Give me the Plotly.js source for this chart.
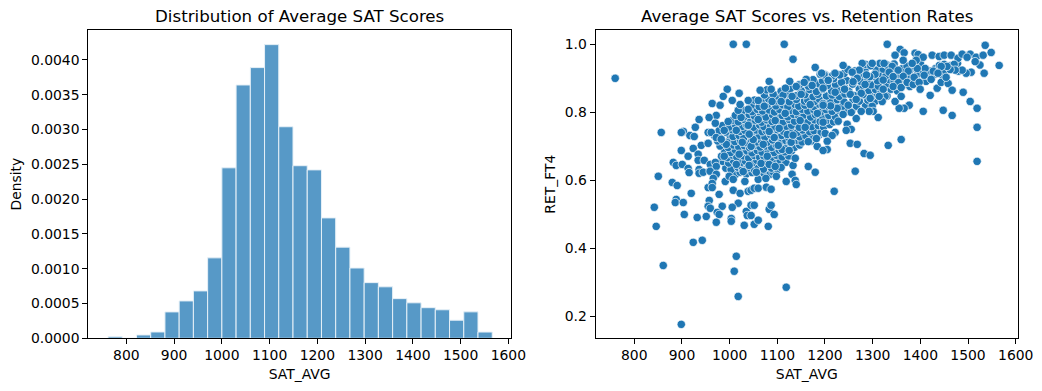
<!DOCTYPE html>
<html><head><meta charset="utf-8">
<script src="https://cdn.plot.ly/plotly-3.0.1.min.js"></script>
<style>html,body{margin:0;padding:0;background:#fff}#c{width:1042px;height:391px}</style>
</head><body><div id="c"></div>
<script>
const binCenters=[776.6,806.4,836.2,866,895.8,925.6,955.4,985.2,1015,1044.8,1074.6,1104.4,1134.2,1164,1193.8,1223.6,1253.4,1283.2,1313,1342.8,1372.6,1402.4,1432.2,1462,1491.8,1521.6,1551.4];
const densities=[0.000022,0,0.000048,0.000091,0.000379,0.000537,0.000681,0.001156,0.00245,0.00364,0.00389,0.00422,0.00304,0.00248,0.00242,0.00173,0.00131,0.00101,0.0008,0.00074,0.00057,0.00051,0.00044,0.00041,0.00026,0.00038,0.00009];
const yTicksLeft=[0,0.0005,0.001,0.0015,0.002,0.0025,0.003,0.0035,0.004];
const xTicks=[800,900,1000,1100,1200,1300,1400,1500,1600];
const yTicksRight=[0.2,0.4,0.6,0.8,1.0];
const titleLeft="Distribution of Average SAT Scores";
const titleRight="Average SAT Scores vs. Retention Rates";
// SAT_AVG, RET_FT4 pairs
const bodyPairs=[
[1005,.622],[1012,.617],[1022,.624],[1035,.619],[1047,.623],[1063,.616],[1072,.621],[1085,.618],[1091,.625],
[992,.636],[1003,.632],[1017,.639],[1027,.634],[1038,.637],[1052,.631],[1060,.638],[1071,.633],[1088,.636],[1101,.632],
[985,.656],[998,.651],[1008,.658],[1024,.653],[1033,.657],[1048,.652],[1057,.659],[1069,.654],[1078,.656],[1092,.651],[1106,.658],[1118,.653],
[983,.671],[995,.667],[1006,.674],[1015,.669],[1029,.672],[1040,.666],[1052,.673],[1063,.668],[1072,.671],[1087,.667],[1098,.674],[1110,.669],[1124,.672],
[990,.686],[1002,.682],[1012,.689],[1025,.684],[1036,.687],[1047,.681],[1058,.688],[1068,.683],[1081,.686],[1093,.682],[1104,.689],[1116,.684],[1130,.687],
[980,.701],[997,.697],[1008,.704],[1019,.699],[1031,.702],[1042,.696],[1054,.703],[1064,.698],[1076,.701],[1088,.697],[1098,.704],[1114,.699],[1120,.702],[1136,.697],[1147,.704],
[975,.716],[988,.712],[1001,.719],[1011,.714],[1023,.717],[1034,.711],[1046,.718],[1057,.713],[1067,.716],[1079,.712],[1090,.719],[1107,.714],[1118,.717],[1127,.711],[1141,.718],[1152,.713],[1172,.716],
[968,.731],[979,.727],[1000,.734],[1007,.729],[1020,.732],[1030,.726],[1043,.733],[1052,.728],[1062,.731],[1074,.727],[1086,.734],[1098,.729],[1109,.732],[1124,.726],[1138,.733],[1147,.728],[1160,.731],[1175,.727],[1188,.734],
[978,.746],[992,.742],[1005,.749],[1022,.744],[1032,.747],[1046,.741],[1056,.748],[1068,.743],[1077,.746],[1090,.742],[1100,.749],[1113,.744],[1128,.747],[1142,.741],[1153,.748],[1168,.743],[1177,.746],[1192,.742],
[985,.761],[1000,.757],[1012,.764],[1027,.759],[1036,.762],[1050,.756],[1063,.763],[1072,.758],[1086,.761],[1095,.757],[1108,.764],[1119,.759],[1130,.762],[1146,.756],[1160,.763],[1172,.758],[1186,.761],[1197,.757],[1210,.764],
[1005,.776],[1018,.772],[1031,.779],[1044,.774],[1054,.777],[1067,.771],[1078,.778],[1089,.773],[1103,.776],[1112,.772],[1125,.779],[1136,.774],[1152,.777],[1163,.771],[1178,.778],[1190,.773],[1203,.776],[1218,.772],
[1012,.791],[1030,.787],[1041,.794],[1052,.789],[1065,.792],[1076,.786],[1090,.793],[1101,.788],[1110,.791],[1122,.787],[1134,.794],[1145,.789],[1156,.792],[1170,.786],[1180,.793],[1195,.788],[1208,.791],[1222,.787],[1237,.794],
[1028,.806],[1047,.802],[1058,.809],[1069,.804],[1083,.807],[1094,.801],[1105,.808],[1119,.803],[1128,.806],[1140,.802],[1152,.809],[1164,.804],[1177,.807],[1191,.801],[1202,.808],[1215,.803],[1230,.806],[1245,.802],[1258,.809],
[1046,.821],[1062,.817],[1080,.824],[1097,.819],[1112,.822],[1122,.816],[1137,.823],[1145,.818],[1158,.821],[1177,.817],[1188,.824],[1205,.819],[1218,.822],[1235,.816],[1252,.823],[1266,.818],[1285,.821],
[1052,.836],[1070,.832],[1082,.839],[1098,.834],[1118,.837],[1125,.831],[1140,.838],[1157,.833],[1164,.836],[1178,.832],[1188,.839],[1212,.834],[1226,.837],[1240,.831],[1259,.838],[1272,.833],[1290,.836],[1305,.832],
[1073,.851],[1102,.847],[1121,.854],[1140,.849],[1158,.852],[1175,.846],[1185,.853],[1203,.848],[1215,.851],[1230,.847],[1242,.854],[1262,.849],[1280,.852],[1298,.846],[1310,.853],[1330,.848],
[1078,.866],[1108,.862],[1127,.869],[1150,.864],[1168,.867],[1182,.861],[1196,.868],[1214,.863],[1228,.866],[1250,.862],[1272,.869],[1292,.864],[1306,.867],[1318,.861],[1338,.868],[1352,.863],
[1146,.881],[1165,.877],[1187,.884],[1205,.879],[1222,.882],[1240,.876],[1258,.883],[1280,.878],[1297,.881],[1312,.877],[1330,.884],[1348,.879],[1368,.882],[1378,.876],
[1175,.896],[1195,.892],[1218,.899],[1245,.894],[1262,.897],[1275,.891],[1290,.898],[1310,.893],[1335,.896],[1345,.892],[1362,.899],[1380,.894],[1392,.897],[1412,.891],
[1200,.911],[1215,.907],[1240,.914],[1268,.909],[1282,.912],[1300,.906],[1318,.913],[1328,.908],[1352,.911],[1372,.907],[1395,.914],[1415,.909],[1430,.912],[1448,.906],
[1248,.926],[1263,.922],[1285,.929],[1308,.924],[1322,.927],[1338,.921],[1362,.928],[1378,.923],[1403,.926],[1418,.922],[1432,.929],[1450,.924],[1468,.927],[1480,.921],
[1285,.941],[1296,.937],[1315,.944],[1330,.939],[1345,.942],[1372,.936],[1400,.943],[1440,.938],[1450,.941],[1463,.937],[1478,.944],[1525,.939]
];
const edgePairs=[
[760,.90],[1007.6,1],[1035,1],[1114.5,1],[1133,.956],[1179.5,.932],[1083,.891],[1126,.891],[995,.868],[986.6,.847],[1020,.856],[1005.5,.835],[963.5,.826],[980,.821],[972,.791],[957,.785],[936,.779],[928,.756],[970,.768],[856.6,.741],[903,.744],[898.6,.741],[916.7,.732],[925.8,.729],[955,.741],[961.5,.741],[972,.726],[940.5,.703],[955,.709],[923.7,.694],[898.6,.688],[913,.671],[934,.677],[881.8,.653],[888,.644],[900.7,.647],[913,.635],[915,.623],[934,.659],[946.8,.659],[936,.632],[936,.621],[944.7,.624],[959.4,.647],[970,.653],[972,.641],[959,.627],[972,.618],[965.7,.606],[850.4,.612],[879.7,.594],[890,.585],[955,.579],[963.5,.591],[963.5,.579],[990.8,.597],[999.2,.612],[1007.6,.603],[1007.6,.571],[1022,.562],[978,.559],[919.5,.562],[888,.544],[886,.535],[902.8,.535],[957.3,.541],[955,.524],[959.4,.518],[984.5,.524],[1018,.533],[1005.5,.521],[842,.521],[846,.465],[904.9,.5],[932,.491],[951,.494],[974,.506],[978,.5],[972,.477],[1003.4,.488],[1003.4,.48],[1030.6,.468],[1035,.509],[1037,.497],[1045,.527],[1051.6,.527],[1045,.497],[1051.6,.471],[1060,.483],[1081,.465],[1083,.515],[1087,.527],[1093.5,.5],[923.7,.418],[942.6,.424],[1014,.377],[1009.7,.333],[860.8,.35],[1018,.259],[1118.7,.286],[898.6,.177],[1039,.568],[1045,.571],[1051.6,.577],[1060,.577],[1077,.58],[1087,.574],[1118.7,.597],[1131,.618],[1137.6,.6],[1139.7,.588],[1165,.641],[1179.5,.624],[1133,.644],[1137.6,.665],[1098,.612],[1108,.638],
[1032,.597],[1060,.603],[1076,.606],[1028.5,.626],[1056,.624],[1014,.647],[1041,.644],[1066,.65],[1083,.647],[1095.6,.641],[1020,.677],[1079,.671],[988.7,.671],[1045,.7],[1110,.691],[1125,.688],[1102,.703],[1129,.712],[993,.706],[982.4,.721],[1026.5,.712],[1070.5,.706],[1093.5,.726],[1049.5,.72],[1104,.753],[1083,.744],[1041,.736],[1039,.762],[1014,.747],[988.7,.747],[997,.773],[1024,.785],[1060,.779],[1095.6,.776],[1116.6,.797],[1148,.776],[1158.5,.756],[1121,.735],[1133,.733],[1165,.714],[1183.7,.7],[1182,.723],[1200.5,.738],[1196,.771],[1184,.797],[1196,.826],[1169,.823],[1150,.853],[1131,.847],[1112,.85],[1091.4,.853],[1108,.832],[1089,.832],[1072.6,.818],[1060,.835],[1039,.809],[1018,.806],[1022,.823],[1039,.835],[1207,.895],[1198,.91],[1190,.912],[1173,.879],[1160.6,.897],[1156.4,.888],[1139.7,.876],[1117,.871],[1087,.868],[1064,.865],
[1330.5,1],[1357.7,.985],[1366,.975],[1347,.968],[1364,.953],[1389,.974],[1395.4,.97],[1406,.962],[1424.8,.968],[1439.5,.964],[1450,.968],[1464.6,.968],[1479,.959],[1487.7,.971],[1504.5,.971],[1498,.962],[1517,.962],[1515,.949],[1531.7,.968],[1536,.997],[1548.5,.976],[1565.3,.938],[1533.8,.915],[1506.6,.918],[1496,.915],[1487.7,.924],[1471,.941],[1473,.924],[1462.5,.926],[1456,.935],[1443.7,.935],[1427,.921],[1437,.915],[1410,.929],[1393.4,.929],[1391.3,.953],[1382.9,.944],[1374.5,.921],[1364,.906],[1353.5,.888],[1343,.876],[1359.8,.873],[1372.4,.888],[1385,.882],[1387,.903],[1397.5,.888],[1399.6,.868],[1408,.909],[1422.7,.897],[1435.3,.871],[1420.6,.85],[1443.7,.888],[1458.3,.885],[1454,.903],[1466.7,.865],[1489.8,.859],[1504.5,.832],[1519,.812],[1519,.756],[1519,.656],[1466.7,.791],[1447.9,.806],[1406,.803],[1376.6,.821],[1366,.812],[1355.6,.812],[1347,.832],[1359.8,.847],[1326,.847],[1320,.832],[1313.7,.847],[1311.6,.785],[1299,.818],[1301,.803],[1292.7,.803],[1276,.803],[1265.5,.782],[1255,.8],[1238,.794],[1227.7,.774],[1246.6,.765],[1255,.75],[1244.5,.747],[1221.4,.741],[1215,.732],[1204.7,.715],[1204.7,.691],[1196,.688],[1253,.709],[1267.6,.706],[1282,.679],[1294.8,.674],[1332.6,.703],[1359.8,.72],[1263.4,.627],[1219.3,.568],[1294.8,.841],[1238,.938],[1278,.944],[1299,.944],[1324,.944],[1322,.868],[1341,.935],[1353.5,.924],[1334.7,.918],[1305,.912],[1271.8,.924],[1257,.918],[1267.6,.9],[1284,.882],[1276,.856],[1253,.853],[1234.7,.888],[1206.8,.894],[1196,.871],[1221.4,.859],[1241,.868],[1265.5,.838],[1248.7,.821],[1225.6,.812],[1211.7,.819],[1196,.821],[1294,.905],[1322,.895],[1343,.905],[1287,.91],[1231,.91],[1259,.89],[1221,.915],[1193,.915]
];
const pairs=bodyPairs.concat(edgePairs);
const W=1042,H=391;
const tickFont={family:'"DejaVu Sans"',size:13.9,color:'#000'};
const baseAxis={showgrid:false,zeroline:false,showline:true,mirror:true,linecolor:'#000',linewidth:1,ticks:'outside',ticklen:5,tickwidth:1,tickcolor:'#000',tickfont:tickFont};
const traces=[
 {type:'bar',x:binCenters,y:densities,width:29.8,xaxis:'x',yaxis:'y',marker:{color:'#5799c7',line:{color:'#e6f0f7',width:1}}},
 {type:'scatter',mode:'markers',x:pairs.map(p=>p[0]),y:pairs.map(p=>p[1]),xaxis:'x2',yaxis:'y2',marker:{color:'#1f77b4',size:8.4,line:{color:'#fff',width:0.7}},cliponaxis:false}
];
const layout={
 width:W,height:H,margin:{l:0,r:0,t:0,b:0},paper_bgcolor:'#fff',plot_bgcolor:'#fff',showlegend:false,
 font:{family:'"DejaVu Sans"',size:13.9,color:'#000'},
 xaxis:{...baseAxis,domain:[88.3/W,511/W],range:[720.4,1605.6],tickvals:xTicks,ticklabelstandoff:-1,anchor:'y',title:{text:'SAT_AVG',font:{size:13.9},standoff:7}},
 yaxis:{...baseAxis,domain:[1-338.3/H,1-30/H],range:[0,0.00443],tickvals:yTicksLeft,tickformat:'.4f',anchor:'x',title:{text:'Density',font:{size:13.9},standoff:6}},
 xaxis2:{...baseAxis,domain:[595.5/W,1018/W],range:[718.7,1604.8],tickvals:xTicks,ticklabelstandoff:-1,anchor:'y2',title:{text:'SAT_AVG',font:{size:13.9},standoff:7}},
 yaxis2:{...baseAxis,domain:[1-338.3/H,1-30/H],range:[0.136,1.042],tickvals:yTicksRight,tickformat:'.1f',anchor:'x2',title:{text:'RET_FT4',font:{size:13.9},standoff:5}},
 annotations:[
  {text:titleLeft,xref:'paper',yref:'paper',x:299.6/W,y:1-17/H,xanchor:'center',yanchor:'middle',showarrow:false,font:{family:'"DejaVu Sans"',size:16.67,color:'#000'}},
  {text:titleRight,xref:'paper',yref:'paper',x:806.7/W,y:1-17/H,xanchor:'center',yanchor:'middle',showarrow:false,font:{family:'"DejaVu Sans"',size:16.67,color:'#000'}}
 ]
};
Plotly.newPlot('c',traces,layout,{displayModeBar:false,staticPlot:true});
</script></body></html>
